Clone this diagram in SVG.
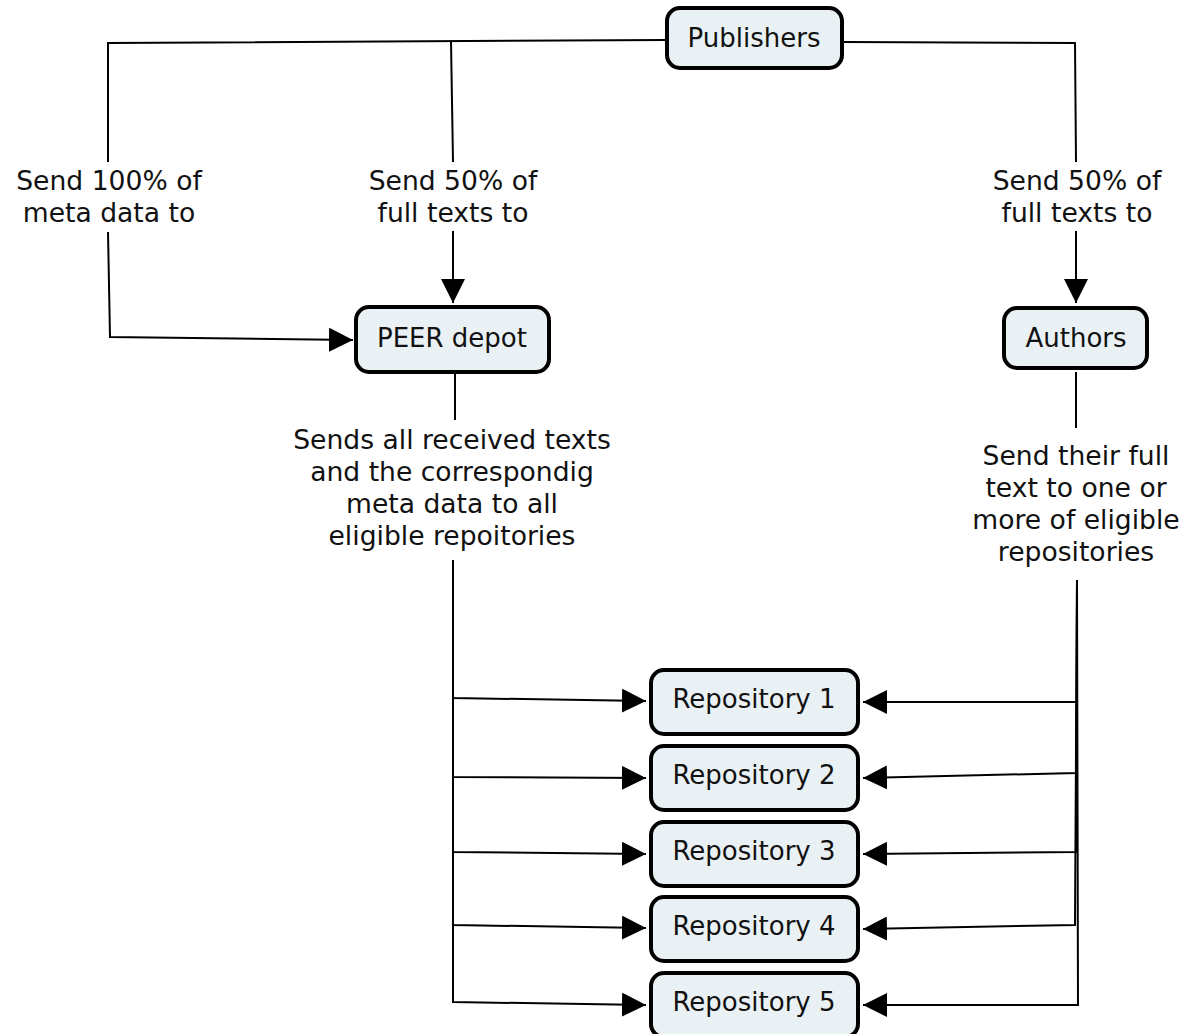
<svg xmlns="http://www.w3.org/2000/svg" width="1180" height="1034" viewBox="0 0 1180 1034">
<defs>
<marker id="arr" markerUnits="userSpaceOnUse" markerWidth="24" markerHeight="24" refX="22" refY="11" orient="auto" viewBox="0 0 22 22">
<path d="M0,0 L22,11 L0,22 z" fill="#000"/>
</marker>
<style>
.node rect{fill:#eaf1f5;stroke:#000;stroke-width:4}
text{font-family:"DejaVu Sans","Liberation Sans",sans-serif;font-size:26px;fill:#111;text-anchor:middle}
#labels text{font-size:26.6px}
.c{fill:none;stroke:#000;stroke-width:2}
.a{marker-end:url(#arr)}
</style>
</defs>
<rect width="1180" height="1034" fill="#fff"/>
<g id="connectors">
<path class="c" d="M667,40 L108,43 L108,162"/>
<path class="c a" d="M108,232 L110,337 L353,340"/>
<path class="c" d="M451,41 L453,162"/>
<path class="c a" d="M453,231 L453,303"/>
<path class="c" d="M842,42 L1075,43 L1076,162"/>
<path class="c a" d="M1076,231 L1076,303"/>
<path class="c" d="M455,374 L455,420"/>
<path class="c" d="M1076,372 L1076,428"/>
<path class="c a" d="M453,560 L453,698 L646,701"/>
<path class="c a" d="M453,560 L453,777 L646,778"/>
<path class="c a" d="M453,560 L453,852 L646,854"/>
<path class="c a" d="M453,560 L453,925 L646,928"/>
<path class="c a" d="M453,560 L453,1002 L646,1005"/>
<path class="c a" d="M1077,580 L1077,702 L863,702"/>
<path class="c a" d="M1077,580 L1076,773 L863,778"/>
<path class="c a" d="M1077,580 L1077,852 L863,854"/>
<path class="c a" d="M1077,580 L1075,925 L863,929"/>
<path class="c a" d="M1077,580 L1078,1005 L863,1005"/>
</g>
<g id="labels">
<text x="109" y="190">Send 100% of</text>
<text x="109" y="222">meta data to</text>
<text x="453" y="190">Send 50% of</text>
<text x="453" y="222">full texts to</text>
<text x="1077" y="190">Send 50% of</text>
<text x="1077" y="222">full texts to</text>
<text x="452" y="449">Sends all received texts</text>
<text x="452" y="481">and the correspondig</text>
<text x="452" y="513">meta data to all</text>
<text x="452" y="545">eligible repoitories</text>
<text x="1076" y="465">Send their full</text>
<text x="1076" y="497">text to one or</text>
<text x="1076" y="529">more of eligible</text>
<text x="1076" y="561">repositories</text>
</g>
<g id="publishers" class="node"><rect x="667" y="8" width="175" height="60" rx="13"/><text x="754" y="47">Publishers</text></g>
<g id="peer-depot" class="node"><rect x="356" y="307" width="193" height="65" rx="13"/><text x="452" y="347">PEER depot</text></g>
<g id="authors" class="node"><rect x="1004" y="308" width="143" height="60" rx="13"/><text x="1076" y="347">Authors</text></g>
<g id="repository-1" class="node"><rect x="651" y="670" width="207" height="64" rx="13"/><text x="754" y="708">Repository 1</text></g>
<g id="repository-2" class="node"><rect x="651" y="746" width="207" height="64" rx="13"/><text x="754" y="784">Repository 2</text></g>
<g id="repository-3" class="node"><rect x="651" y="822" width="207" height="64" rx="13"/><text x="754" y="860">Repository 3</text></g>
<g id="repository-4" class="node"><rect x="651" y="897" width="207" height="64" rx="13"/><text x="754" y="935">Repository 4</text></g>
<g id="repository-5" class="node"><rect x="651" y="973" width="207" height="64" rx="13"/><text x="754" y="1011">Repository 5</text></g>
</svg>
